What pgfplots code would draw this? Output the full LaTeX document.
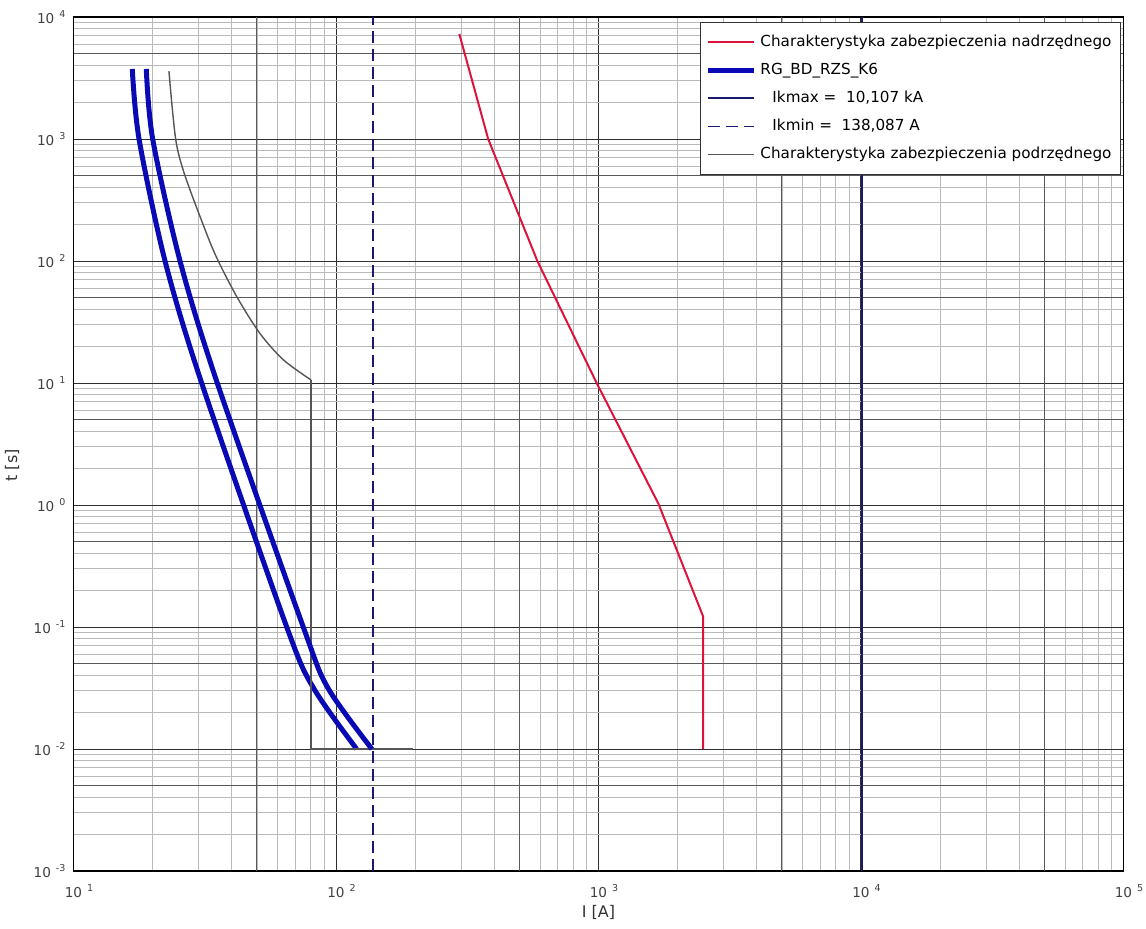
\documentclass[border=0pt]{standalone}
\usepackage{fontspec}
\setmainfont{DejaVu Sans}
\usepackage{pgfplots}
\pgfplotsset{compat=1.18}
\definecolor{crim}{RGB}{220,20,60}
\definecolor{bl}{RGB}{10,10,180}
\definecolor{nv}{RGB}{25,25,110}
\definecolor{gr}{RGB}{85,85,85}
\newcommand{\xl}[1]{10\rlap{\hspace{2.5pt}\textsuperscript{#1}}}
\newcommand{\yl}[1]{10\hspace{2.5pt}\textsuperscript{#1}}
\begin{document}
\begin{tikzpicture}
\begin{axis}[
  name=ax, at={(0,0)}, anchor=south west,
  scale only axis, width=525pt, height=427pt,
  xmode=log, ymode=log,
  xmin=10, xmax=100000, ymin=0.001, ymax=10000,
  xtick={10,100,1000,10000,100000},
  xticklabels={\xl{1},\xl{2},\xl{3},\xl{4},\xl{5}},
  ytick={0.001,0.01,0.1,1,10,100,1000,10000},
  yticklabels={\yl{-3},\yl{-2},\yl{-1},\yl{0},\yl{1},\yl{2},\yl{3},\yl{4}},
  tick label style={font=\fontsize{6.8}{8}\selectfont, text=black!75},
  xticklabel style={yshift=-3pt},
  grid=both,
  major grid style={black!82, line width=0.5pt},
  minor grid style={black!27, line width=0.45pt},
  extra x ticks={50,500,5000,50000}, extra x tick labels={},
  extra y ticks={0.005,0.05,0.5,5,50,500,5000}, extra y tick labels={},
  extra x tick style={grid=major, major grid style={black!65, line width=0.5pt}},
  extra y tick style={grid=major, major grid style={black!65, line width=0.5pt}},
  major tick length=0pt, minor tick length=0pt,
  axis line style={black, line width=0.6pt},
  xlabel={I [A]}, ylabel={t [s]},
  label style={font=\fontsize{8}{9}\selectfont, text=black!80},
  x label style={at={(axis description cs:0.5,-0.048)}, anchor=center},
  y label style={at={(axis description cs:-0.0586,0.475)}, anchor=center},
  legend image code/.code={\draw[#1] (0cm,0cm) -- (0.8cm,0cm);},
  legend cell align=left,
  legend style={at={(rel axis cs:0.9976,0.994)}, anchor=north east,
    draw=black!80, fill=white, line width=0.5pt,
    font=\fontsize{7.6}{9}\selectfont,
    inner xsep=2.5pt, inner ysep=6pt, row sep=6.3pt,
    nodes={inner ysep=0pt, text height=6pt, text depth=1.7pt}},
]
% upstream (red)
\addplot[crim, line width=1pt] coordinates {
 (295,7260) (380,1000) (585,100) (984,10) (1690,1.03)
 (2506,0.1215) (2506,0.01)};
\addlegendentry{Charakterystyka zabezpieczenia nadrzędnego}
% RG_BD_RZS_K6 left
\addplot[bl, line width=2.5pt, smooth, tension=0.5] coordinates {
 (16.75,3750) (17.77,1000) (22.32,100) (30.78,10) (64.9,0.1)
 (82.1,0.0316) (119.9,0.01)};
\addlegendentry{RG\_BD\_RZS\_K6}
\addplot[nv, line width=1pt] coordinates {(10107,0.001) (10107,10000)};
\addlegendentry{\hspace{6pt}Ikmax =\ \ 10,107 kA}
\addplot[nv, line width=0.8pt, dash pattern=on 6pt off 3pt] coordinates {(138.087,0.001) (138.087,10000)};
\addlegendentry{\hspace{6pt}Ikmin =\ \ 138,087 A}
% downstream (gray)
\addplot[gr, line width=0.7pt, smooth, tension=0.5] coordinates {
 (23.1,3600) (24.5,1000) (26.6,500) (32.1,169) (35.6,100) (42.1,50)
 (51.3,25.5) (63.0,15.5) (80.3,10.6)};
\addlegendentry{Charakterystyka zabezpieczenia podrzędnego}
\addplot[gr, line width=0.7pt, forget plot] coordinates {
 (80.3,10.6) (80.3,0.01) (197,0.01)};
% RG_BD_RZS_K6 right
\addplot[bl, line width=2.5pt, smooth, tension=0.5, forget plot] coordinates {
 (18.94,3750) (20.03,1000) (25.46,100) (35.3,10) (75.06,0.1)
 (93.2,0.0316) (137,0.01)};
\end{axis}
\pgfresetboundingbox
\path[use as bounding box] (-36.75pt,-28.5pt) rectangle (536.25pt,435.5pt);
\end{tikzpicture}
\end{document}
